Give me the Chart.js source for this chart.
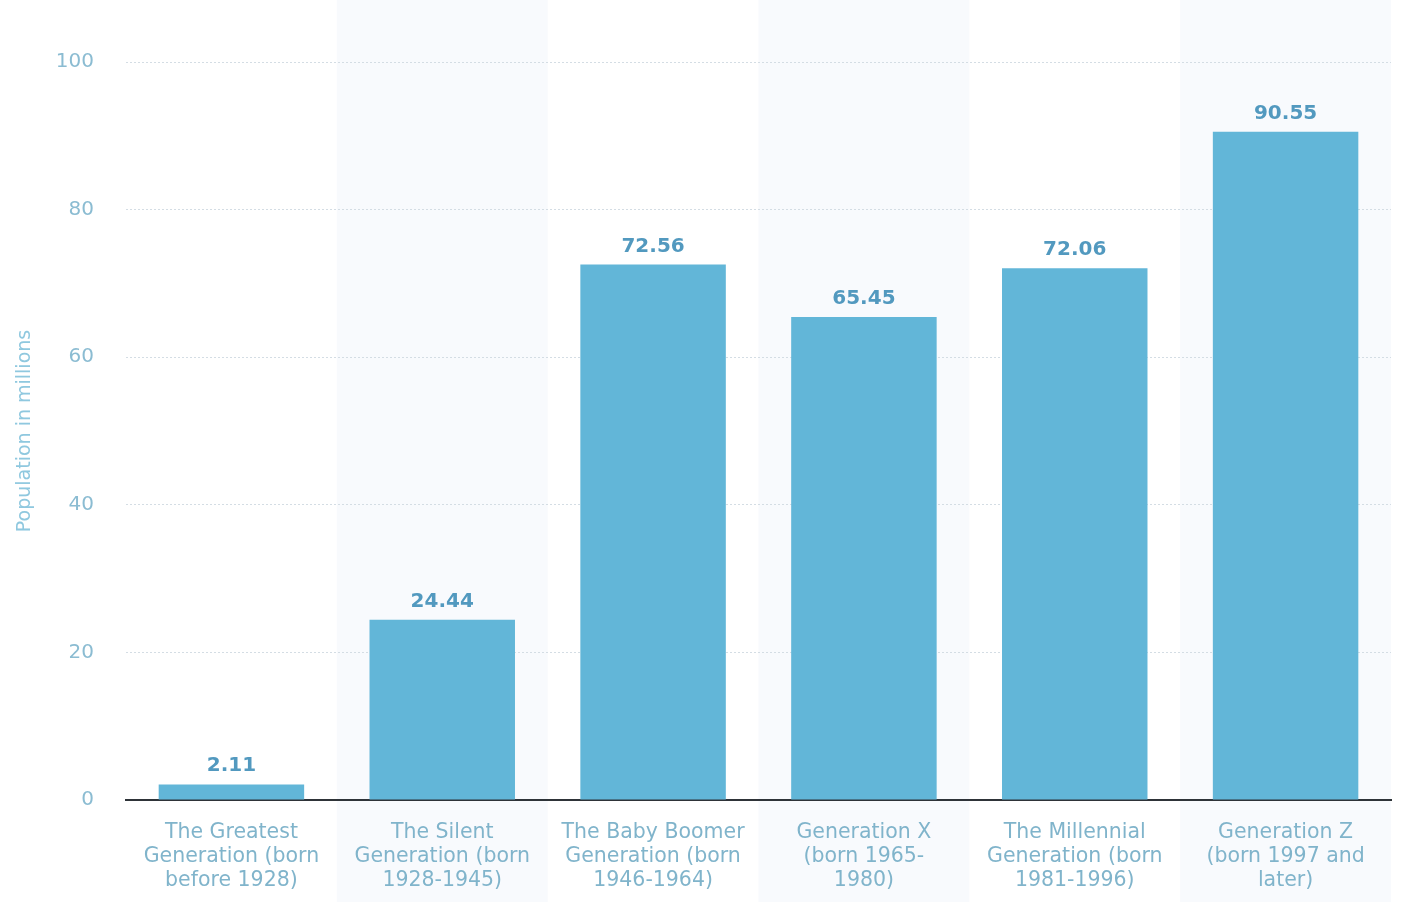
<!DOCTYPE html>
<html>
<head>
<meta charset="utf-8">
<script src="https://cdn.jsdelivr.net/npm/chart.js@4.4.1/dist/chart.umd.min.js"></script>
<style>
  html, body { margin: 0; padding: 0; background: #fff; }
  #wrap { width: 1409px; height: 902px; }
</style>
</head>
<body>
<div id="wrap"><canvas id="chart" width="1409" height="902"></canvas></div>
<script>
const categories = [
  ['The Greatest', 'Generation (born', 'before 1928)'],
  ['The Silent', 'Generation (born', '1928-1945)'],
  ['The Baby Boomer', 'Generation (born', '1946-1964)'],
  ['Generation X', '(born 1965-', '1980)'],
  ['The Millennial', 'Generation (born', '1981-1996)'],
  ['Generation Z', '(born 1997 and', 'later)']
];
const population = [2.11, 24.44, 72.56, 65.45, 72.06, 90.55];
const yTicks = [0, 20, 40, 60, 80, 100];

// shaded background behind every other column
const stripes = {
  id: 'stripes',
  beforeDraw(chart) {
    const { ctx, scales: { x } } = chart;
    const w = x.width / categories.length;
    ctx.save();
    ctx.fillStyle = '#f8fafd';
    categories.forEach((c, i) => {
      if (i % 2 === 1) {
        const cx = x.getPixelForValue(i);
        ctx.fillRect(cx - w / 2, 0, w, chart.height);
      }
    });
    ctx.restore();
  }
};

// value labels above the bars
const valueLabels = {
  id: 'valueLabels',
  afterDatasetsDraw(chart) {
    const { ctx } = chart;
    const meta = chart.getDatasetMeta(0);
    ctx.save();
    ctx.font = 'bold 20px "DejaVu Sans"';
    ctx.fillStyle = '#5299bf';
    ctx.textAlign = 'center';
    ctx.textBaseline = 'alphabetic';
    meta.data.forEach((bar, i) => {
      ctx.fillText(population[i].toFixed(2), bar.x, bar.y - 13);
    });
    ctx.restore();
  }
};

new Chart(document.getElementById('chart'), {
  type: 'bar',
  data: {
    labels: categories,
    datasets: [{
      label: 'Population in millions',
      data: population,
      backgroundColor: '#62b6d8',
      barPercentage: 0.69,
      categoryPercentage: 1
    }]
  },
  options: {
    responsive: false,
    animation: false,
    layout: { padding: { left: 14, right: 18, top: 62, bottom: 0 } },
    plugins: { legend: { display: false }, tooltip: { enabled: false } },
    scales: {
      x: {
        grid: { display: false, drawTicks: false },
        border: { color: '#2e3338', width: 2 },
        ticks: {
          color: '#80b4cb',
          font: { family: 'DejaVu Sans', size: 20.5, lineHeight: 1.17 },
          padding: 21,
          maxRotation: 0,
          autoSkip: false
        },
        afterFit(scale) { scale.height = 102; }
      },
      y: {
        min: 0,
        max: 100,
        afterBuildTicks(scale) { scale.ticks = yTicks.map(v => ({ value: v })); },
        grid: { color: '#d4dde4', tickLength: 0, drawTicks: false },
        border: { display: false, dash: [2, 2] },
        ticks: {
          color: '#8bbcd2',
          font: { family: 'DejaVu Sans', size: 20 },
          padding: 32
        },
        title: {
          display: true,
          text: 'Population in millions',
          color: '#8fc8df',
          font: { family: 'DejaVu Sans', size: 19 },
          padding: { top: 0, bottom: 0 }
        },
        afterFit(scale) { scale.width = 112; }
      }
    }
  },
  plugins: [stripes, valueLabels]
});
</script>
</body>
</html>
